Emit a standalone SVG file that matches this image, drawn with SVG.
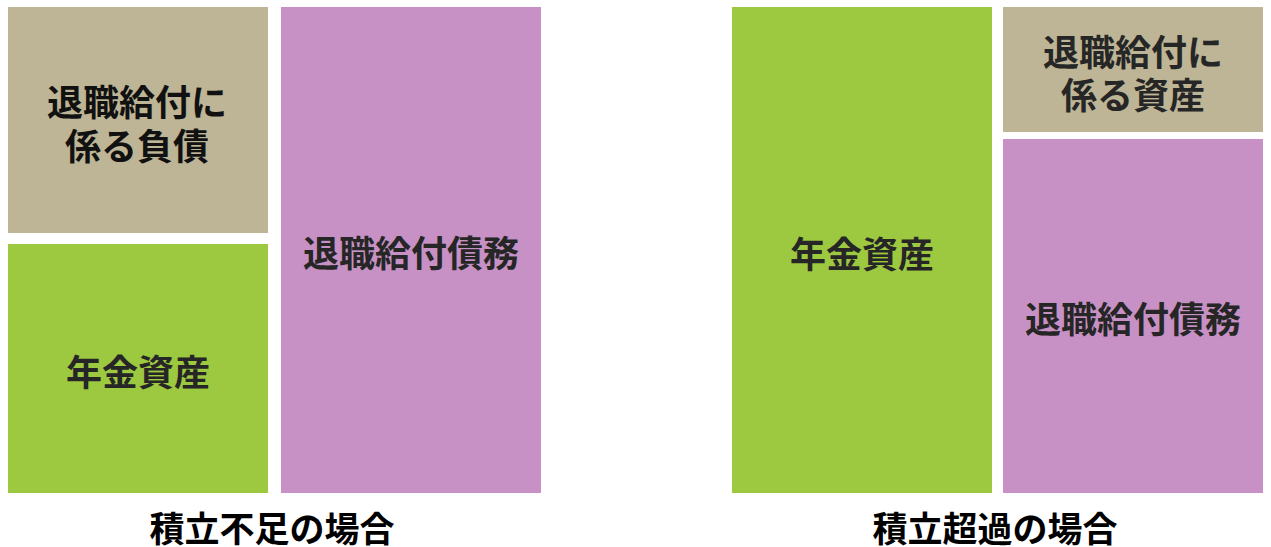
<svg xmlns="http://www.w3.org/2000/svg" width="1271" height="547" viewBox="0 0 1271 547">
<style>
.tan{fill:#BDB595}
.grn{fill:#9DC941}
.pur{fill:#C791C5}
text{font-family:"Noto Sans CJK JP","Noto Sans CJK SC",sans-serif;font-weight:bold;font-size:36px;text-anchor:middle;dominant-baseline:central;fill:#262626}
.cap{fill:#000;font-size:35px}
.dk{fill:#111}
</style>
<rect width="1271" height="547" fill="#fff"/>
<g id="left-liability"><rect class="tan" x="8" y="7" width="260" height="226"/><text class="dk" x="137" y="100">退職給付に</text><text class="dk" x="137" y="144">係る負債</text></g>
<g id="left-assets"><rect class="grn" x="8" y="244" width="260" height="249"/><text x="138" y="370">年金資産</text></g>
<g id="left-obligation"><rect class="pur" x="281" y="7" width="260" height="486"/><text x="411" y="251">退職給付債務</text></g>
<g id="left-caption"><text class="cap" x="272" y="526">積立不足の場合</text></g>
<g id="right-assets"><rect class="grn" x="732" y="7" width="260" height="486"/><text x="862" y="252">年金資産</text></g>
<g id="right-asset"><rect class="tan" x="1003" y="7" width="260" height="125"/><text x="1133" y="50">退職給付に</text><text x="1133" y="93">係る資産</text></g>
<g id="right-obligation"><rect class="pur" x="1003" y="139" width="260" height="354"/><text x="1133" y="317">退職給付債務</text></g>
<g id="right-caption"><text class="cap" x="995" y="526">積立超過の場合</text></g>
<g id="connectors"></g>
</svg>
